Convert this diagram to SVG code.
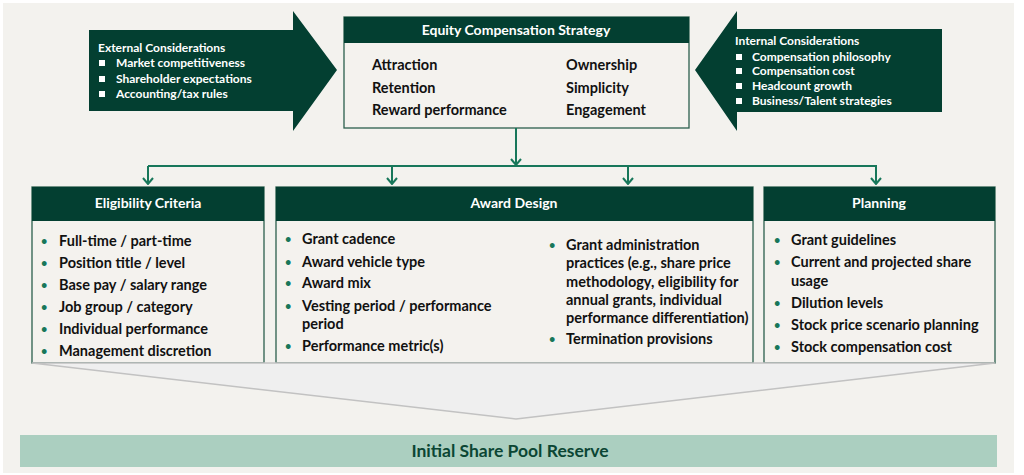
<svg xmlns="http://www.w3.org/2000/svg" width="1024" height="475" viewBox="0 0 1024 475">
<defs>
<marker id="arr" viewBox="0 0 12 12" refX="11" refY="6" markerWidth="12" markerHeight="12" markerUnits="userSpaceOnUse" orient="auto">
<path d="M5,1 L11,6 L5,11" fill="none" stroke="#17775a" stroke-width="2"/>
</marker>
</defs>
<style>
.dk{fill:#033f31}
.hdr{font-family:Lato,"Open Sans",sans-serif;font-weight:bold;font-size:14px;fill:#ffffff;text-anchor:middle}
.wt{font-family:Lato,"Open Sans",sans-serif;font-weight:bold;font-size:12px;fill:#ffffff}
.it{font-family:Lato,"Open Sans",sans-serif;font-weight:bold;font-size:14.5px;fill:#111111}
.bl{font-family:Lato,"Open Sans",sans-serif;font-weight:bold;font-size:11px;fill:#17775a}
.box{fill:#f4f2ee;stroke:#2c5e4d;stroke-width:1.3}
.con{fill:none;stroke:#17775a;stroke-width:2}
.sq{fill:#ffffff}
</style>
<rect x="0" y="0" width="1024" height="475" fill="#ffffff"/>
<rect x="3" y="3" width="1011" height="470" fill="#f3f2ee"/>

<g id="external">
<polygon class="dk" points="89,30 293,30 293,11 337,70 293,131 293,111 89,111"/>
<text class="wt" x="98" y="52">External Considerations</text>
<rect class="sq" x="99" y="60" width="6" height="6"/>
<rect class="sq" x="99" y="76" width="6" height="6"/>
<rect class="sq" x="99" y="91" width="6" height="6"/>
<text class="wt" x="116" y="67">Market competitiveness</text>
<text class="wt" x="116" y="83">Shareholder expectations</text>
<text class="wt" x="116" y="98">Accounting/tax rules</text>
</g>

<g id="internal">
<polygon class="dk" points="942,29 737,29 737,11 695,70 737,131 737,112 942,112"/>
<text class="wt" x="735" y="45">Internal Considerations</text>
<rect class="sq" x="736" y="54" width="6" height="6"/>
<rect class="sq" x="736" y="68" width="6" height="6"/>
<rect class="sq" x="736" y="83" width="6" height="6"/>
<rect class="sq" x="736" y="98" width="6" height="6"/>
<text class="wt" x="752" y="61">Compensation philosophy</text>
<text class="wt" x="752" y="75">Compensation cost</text>
<text class="wt" x="752" y="90">Headcount growth</text>
<text class="wt" x="752" y="105">Business/Talent strategies</text>
</g>

<g id="strategy">
<rect class="box" x="344" y="17" width="345" height="111"/>
<rect class="dk" x="344" y="17" width="345" height="26"/>
<text class="hdr" x="516" y="35">Equity Compensation Strategy</text>
<text class="it" x="372" y="70">Attraction</text>
<text class="it" x="372" y="93">Retention</text>
<text class="it" x="372" y="115">Reward performance</text>
<text class="it" x="566" y="70">Ownership</text>
<text class="it" x="566" y="93">Simplicity</text>
<text class="it" x="566" y="115">Engagement</text>
</g>

<g id="connectors">
<path class="con" d="M516,128 V165" marker-end="url(#arr)"/>
<path class="con" d="M148,166 H877"/>
<path class="con" d="M148,166 V184" marker-end="url(#arr)"/>
<path class="con" d="M392,166 V184" marker-end="url(#arr)"/>
<path class="con" d="M628,166 V184" marker-end="url(#arr)"/>
<path class="con" d="M876,166 V184" marker-end="url(#arr)"/>
</g>

<g id="eligibility">
<rect class="box" x="32" y="187" width="232" height="176"/>
<rect class="dk" x="32" y="187" width="232" height="34"/>
<text class="hdr" x="148" y="208">Eligibility Criteria</text>
<g class="bl"><text x="41" y="245">•</text><text x="41" y="267">•</text><text x="41" y="289">•</text><text x="41" y="311">•</text><text x="41" y="333">•</text><text x="41" y="355">•</text></g>
<text class="it" x="59" y="246">Full-time / part-time</text>
<text class="it" x="59" y="268">Position title / level</text>
<text class="it" x="59" y="290">Base pay / salary range</text>
<text class="it" x="59" y="312">Job group / category</text>
<text class="it" x="59" y="334">Individual performance</text>
<text class="it" x="59" y="356">Management discretion</text>
</g>

<g id="award">
<rect class="box" x="276" y="187" width="477" height="176"/>
<rect class="dk" x="276" y="187" width="477" height="34"/>
<text class="hdr" x="514" y="208">Award Design</text>
<g class="bl"><text x="285" y="243">•</text><text x="285" y="266">•</text><text x="285" y="287">•</text><text x="285" y="310">•</text><text x="285" y="350">•</text>
<text x="549" y="249">•</text><text x="549" y="343">•</text></g>
<text class="it" x="302" y="244">Grant cadence</text>
<text class="it" x="302" y="267">Award vehicle type</text>
<text class="it" x="302" y="288">Award mix</text>
<text class="it" x="302" y="311">Vesting period / performance</text>
<text class="it" x="302" y="329">period</text>
<text class="it" x="302" y="351">Performance metric(s)</text>
<text class="it" x="566" y="250">Grant administration</text>
<text class="it" x="566" y="268">practices (e.g., share price</text>
<text class="it" x="566" y="287">methodology, eligibility for</text>
<text class="it" x="566" y="305">annual grants, individual</text>
<text class="it" x="566" y="323">performance differentiation)</text>
<text class="it" x="566" y="344">Termination provisions</text>
</g>

<g id="planning">
<rect class="box" x="764" y="187" width="231" height="176"/>
<rect class="dk" x="764" y="187" width="231" height="34"/>
<text class="hdr" x="879" y="208">Planning</text>
<g class="bl"><text x="774" y="244">•</text><text x="774" y="266">•</text><text x="774" y="307">•</text><text x="774" y="329">•</text><text x="774" y="351">•</text></g>
<text class="it" x="791" y="245">Grant guidelines</text>
<text class="it" x="791" y="267">Current and projected share</text>
<text class="it" x="791" y="286">usage</text>
<text class="it" x="791" y="308">Dilution levels</text>
<text class="it" x="791" y="330">Stock price scenario planning</text>
<text class="it" x="791" y="352">Stock compensation cost</text>
</g>

<g id="funnel">
<polygon points="32,363 995,363 516,419" fill="#efefef" stroke="#c2c2c2" stroke-width="1.5"/>
</g>

<g id="reserve">
<rect x="20" y="435" width="977" height="32" fill="#abcfc0"/>
<text x="510" y="457" font-family="Lato,'Open Sans',sans-serif" font-weight="bold" font-size="17.5" fill="#0b4634" text-anchor="middle">Initial Share Pool Reserve</text>
</g>
</svg>
